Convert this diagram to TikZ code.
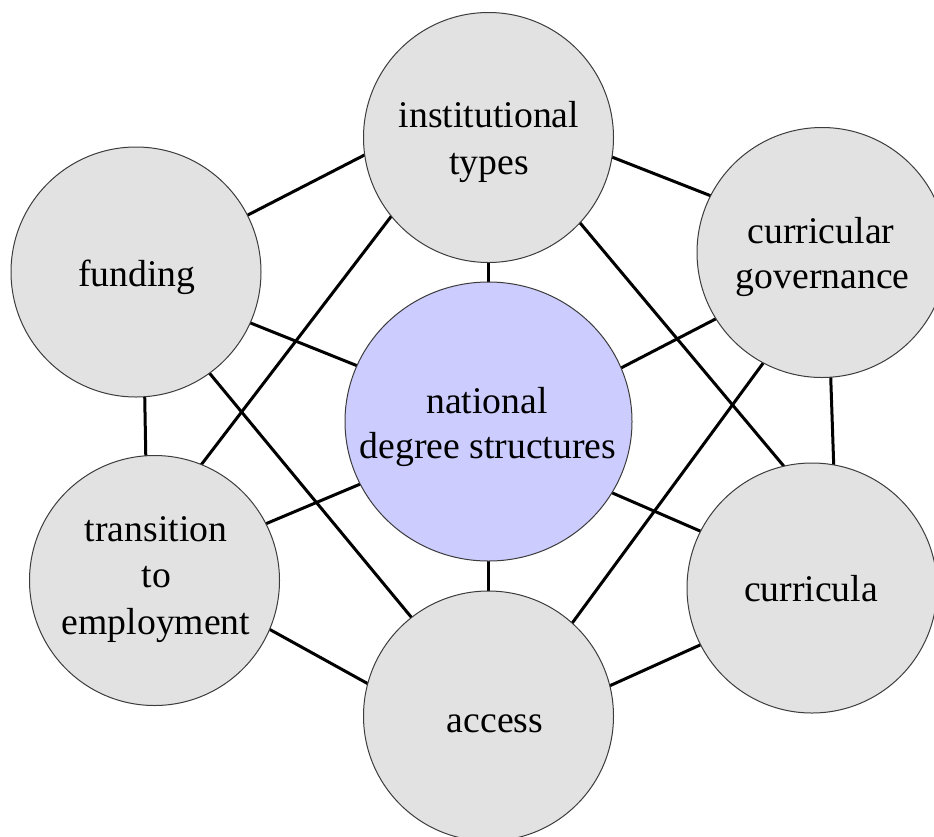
\documentclass[tikz,border=0pt]{standalone}
\usepackage{fontspec}
\setmainfont{Liberation Serif}
\usetikzlibrary{shapes.geometric,backgrounds}
\definecolor{bubblegray}{RGB}{226,226,226}
\definecolor{centerblue}{RGB}{204,204,255}
\definecolor{rimgray}{RGB}{60,60,60}
\begin{document}
\begin{tikzpicture}[x=1pt,y=-1pt,
  bubble/.style={circle, draw=rimgray, line width=1pt, fill=bubblegray, minimum size=250pt, inner sep=0pt, outer sep=0pt},
  hub/.style={ellipse, draw=rimgray, line width=1pt, fill=centerblue, minimum width=287pt, minimum height=279pt, inner sep=0pt, outer sep=0pt},
  lbl/.style={anchor=base, inner sep=0pt, font=\fontsize{37.7}{46}\selectfont},
  link/.style={line width=3pt, black, shorten <=-3pt, shorten >=-3pt}]
\useasboundingbox (0,0) rectangle (934,836);
\clip (0,0) rectangle (934,836);
% circles
\node[bubble] (I) at (488.5,137.5) {};
\node[bubble] (F) at (136,272) {};
\node[bubble] (G) at (822,252.5) {};
\node[bubble] (T) at (154.5,580.5) {};
\node[bubble] (A) at (488.5,716) {};
\node[bubble] (R) at (812,588) {};
\node[hub] (C) at (488.5,421.5) {};
% labels
\node[lbl] (tI1) at (489,127.7) {institutional};
\node[lbl] (tI2) at (489,174) {types};
\node[lbl] (tF) at (136.7,286.7) {funding};
\node[lbl] (tG1) at (821,243) {curricular};
\node[lbl] (tG2) at (822.7,288) {governance};
\node[lbl] (tC1) at (487,413) {national};
\node[lbl] (tC2) at (488,458) {degree structures};
\node[lbl] (tT1) at (156,541.7) {transition};
\node[lbl] (tT2) at (156.5,587) {to};
\node[lbl] (tT3) at (156,634) {employment};
\node[lbl] (tA) at (495,732) {access};
\node[lbl] (tR) at (811,601.7) {curricula};
% connectors
\begin{scope}[on background layer]
\fill[white] (0,0) rectangle (934,836);
\draw[link] (F.27.2) -- (I.188.5);
\draw[link] (I.351.1) -- (G.153.2);
\draw[link] (I.south) -- (C.north);
\draw[link] (F.336.9) -- (C.157.8);
\draw[link] (G.212.7) -- (C.22.2);
\draw[link] (I.219.4) -- (T.68);
\draw[link] (I.317.5) -- (R.103.2);
\draw[link] (F.306) -- (A.128.1);
\draw[link] (G.242.9) -- (A.48.9);
\draw[link] (F.274.1) -- (T.94.3);
\draw[link] (G.274.8) -- (R.80.7);
\draw[link] (T.27.1) -- (C.206.8);
\draw[link] (C.330.1) -- (R.153.8);
\draw[link] (C.south) -- (A.north);
\draw[link] (T.337.9) -- (A.165.1);
\draw[link] (A.14) -- (R.207.4);
\end{scope}
\end{tikzpicture}
\end{document}
